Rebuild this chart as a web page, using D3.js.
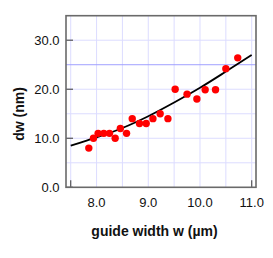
<!DOCTYPE html>
<html>
<head>
<meta charset="utf-8">
<script src="https://cdn.jsdelivr.net/npm/d3@7"></script>
<style>
  body { margin: 0; background: #fff; }
  text { font-family: "Liberation Sans", Arial, sans-serif; }
</style>
</head>
<body>
<div id="chart"></div>
<script>
// measured points
const widths = [7.85, 7.94, 8.03, 8.14, 8.25, 8.36, 8.46, 8.58, 8.69, 8.83, 8.96,
                9.09, 9.23, 9.38, 9.52, 9.75, 9.94, 10.10, 10.30, 10.50, 10.73];
const dws = [8, 10, 11, 11, 11, 10, 12, 11, 14, 13, 13,
             14, 15, 14, 20, 19, 18, 19.9, 19.9, 24.2, 26.4];

// fit curve
const fitW = [7.5, 8.0, 8.5, 9.0, 9.5, 10.0, 10.5, 11.0];
const fitDw = [8.5, 10.2, 12.1, 14.5, 17.3, 20.3, 23.6, 27.0];

const xTicks = [8.0, 9.0, 10.0, 11.0];
const yTicks = [0, 10, 20, 30];
const xGrid = [7.5, 8.0, 8.5, 9.0, 9.5, 10.0, 10.5, 11.0];
const yGrid = [5, 10, 15, 20, 25, 30];
const refLine = 25;

const W = 273, H = 258;
const margin = { top: 15.7, right: 17, bottom: 70.7, left: 66 };
const width = W - margin.left - margin.right;
const height = H - margin.top - margin.bottom;

const svg = d3.select("#chart").append("svg")
    .attr("width", W)
    .attr("height", H);

const g = svg.append("g")
    .attr("transform", `translate(${margin.left},${margin.top})`);

const x = d3.scaleLinear().domain([7.409, 11.083]).range([0, width]);
const y = d3.scaleLinear().domain([0, 35]).range([height, 0]);

// grid
g.selectAll("line.vgrid").data(xGrid).join("line")
    .attr("class", "vgrid")
    .attr("x1", d => x(d)).attr("x2", d => x(d))
    .attr("y1", 0).attr("y2", height)
    .attr("stroke", "#dcdcff").attr("stroke-width", 1);

g.selectAll("line.hgrid").data(yGrid).join("line")
    .attr("class", "hgrid")
    .attr("x1", 0).attr("x2", width)
    .attr("y1", d => y(d)).attr("y2", d => y(d))
    .attr("stroke", d => d === refLine ? "#a0a0ff" : "#dcdcff")
    .attr("stroke-width", 1);

// ticks inside the frame
g.selectAll("line.ytick").data(yTicks).join("line")
    .attr("class", "ytick")
    .attr("x1", 0).attr("x2", 7)
    .attr("y1", d => y(d)).attr("y2", d => y(d))
    .attr("stroke", "#555").attr("stroke-width", 1.2);

g.selectAll("line.xtick").data([7.5, 11.0]).join("line")
    .attr("class", "xtick")
    .attr("x1", d => x(d)).attr("x2", d => x(d))
    .attr("y1", height).attr("y2", height - 7)
    .attr("stroke", "#555").attr("stroke-width", 1.2);

// fit line
const line = d3.line()
    .x((d, i) => x(fitW[i]))
    .y(d => y(d))
    .curve(d3.curveMonotoneX);

g.append("path")
    .attr("d", line(fitDw))
    .attr("fill", "none")
    .attr("stroke", "#000")
    .attr("stroke-width", 1.8);

// points
g.selectAll("circle").data(dws).join("circle")
    .attr("cx", (d, i) => x(widths[i]))
    .attr("cy", d => y(d))
    .attr("r", 3.7)
    .attr("fill", "#ff0000");

// frame
g.append("rect")
    .attr("width", width).attr("height", height)
    .attr("fill", "none")
    .attr("stroke", "#6a6a6a").attr("stroke-width", 1.6);

// tick labels
g.selectAll("text.ylab").data(yTicks).join("text")
    .attr("class", "ylab")
    .attr("x", -6.5)
    .attr("y", d => y(d) + 4.6)
    .attr("text-anchor", "end")
    .attr("font-size", 13)
    .attr("fill", "#111")
    .text(d => d3.format(".1f")(d));

g.selectAll("text.xlab").data(xTicks).join("text")
    .attr("class", "xlab")
    .attr("x", d => x(d))
    .attr("y", height + 19.5)
    .attr("text-anchor", "middle")
    .attr("font-size", 13)
    .attr("fill", "#111")
    .text(d => d3.format(".1f")(d));

// axis titles
svg.append("text")
    .attr("x", 154.5)
    .attr("y", 236)
    .attr("text-anchor", "middle")
    .attr("font-size", 14)
    .attr("font-weight", "bold")
    .attr("fill", "#111")
    .text("guide width w (µm)");

svg.append("text")
    .attr("transform", "translate(24,114) rotate(-90)")
    .attr("text-anchor", "middle")
    .attr("font-size", 14)
    .attr("font-weight", "bold")
    .attr("fill", "#111")
    .text("dw (nm)");
</script>
</body>
</html>
